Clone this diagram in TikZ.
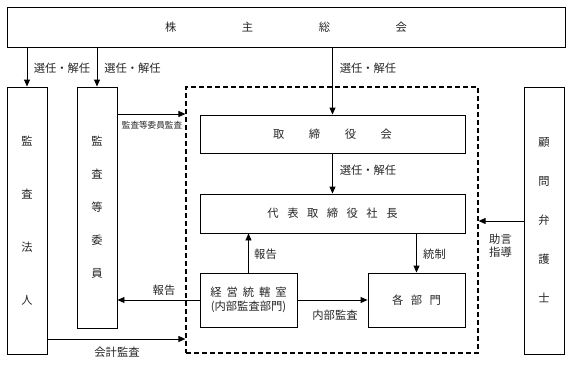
\documentclass[tikz,border=0pt]{standalone}
\usepackage{fontspec}
\setmainfont{Noto Sans CJK JP}
\usetikzlibrary{arrows.meta}
\tikzset{
  box/.style={draw, line width=0.9pt, inner sep=0pt, align=center, text=black!85},
  grpbox/.style={draw, line width=1.2pt, dash pattern=on 5pt off 3pt, inner sep=0pt},
  arr/.style={line width=0.9pt, -{Triangle[length=7pt,width=6pt]}},
  lbl/.style={inner sep=0pt, text=black!85, font=\fontsize{11.3}{13}\selectfont, align=center},
}
\begin{document}
\begin{tikzpicture}[x=1pt,y=-1pt]
\useasboundingbox (0,0) rectangle (570,364);
\begin{scope}[font=\fontsize{11.3}{13}\selectfont]
\node[box, minimum width=558pt, minimum height=40pt] (top) at (286,27)
  {株\hspace{65.5pt}主\hspace{65.5pt}総\hspace{65.5pt}会};
\node[box, minimum width=40pt, minimum height=267pt, font=\fontsize{11.3}{53}\selectfont] (hojin) at (27,220.5)
  {監\\査\\法\\人};
\node[box, minimum width=40pt, minimum height=241pt, font=\fontsize{11.3}{33}\selectfont] (iin) at (97,207.5)
  {監\\査\\等\\委\\員};
\node[grpbox, minimum width=292pt, minimum height=266pt] (grp) at (332,220) {};
\node[box, minimum width=265pt, minimum height=38pt] (tori) at (332.5,134)
  {取\hspace{24.5pt}締\hspace{24.5pt}役\hspace{24.5pt}会};
\node[box, minimum width=265pt, minimum height=39pt] (daihyo) at (332.5,213.5)
  {代\hspace{8.5pt}表\hspace{8.5pt}取\hspace{8.5pt}締\hspace{8.5pt}役\hspace{8.5pt}社\hspace{8.5pt}長};
\node[box, minimum width=97pt, minimum height=54pt, font=\fontsize{11.3}{14}\selectfont] (keiei) at (248.5,300)
  {経\hspace{5pt}営\hspace{5pt}統\hspace{5pt}轄\hspace{5pt}室\\(内部監査部門)};
\node[box, minimum width=97pt, minimum height=54pt] (kakubu) at (416.5,300)
  {各\hspace{7.5pt}部\hspace{7.5pt}門};
\node[box, minimum width=40pt, minimum height=267pt, font=\fontsize{11.3}{39}\selectfont] (komon) at (544,220.5)
  {顧\\問\\弁\\護\\士};
\end{scope}

\draw[arr] (top.south -| hojin.north) -- (hojin.north);
\draw[arr] (top.south -| iin.north) -- (iin.north);
\draw[arr] (top.south -| tori.north) -- (tori.north);
\draw[arr] (tori.south) -- (daihyo.north);
\draw[arr] (iin.east |- 0,114) -- (grp.west |- 0,114);
\draw[arr] (hojin.east |- 0,339) -- (grp.west |- 0,339);
\draw[arr] (komon.west |- 0,221) -- (grp.east |- 0,221);
\draw[arr] (keiei.north) -- (keiei.north |- daihyo.south);
\draw[arr] (daihyo.south -| kakubu.north) -- (kakubu.north);
\draw[arr] (keiei.west) -- (keiei.west -| iin.east);
\draw[arr] (keiei.east) -- (kakubu.west);

\node[lbl] (l1) at (62,68) {選任・解任};
\node[lbl] (l2) at (132.5,68) {選任・解任};
\node[lbl] (l3) at (368,68) {選任・解任};
\node[lbl] (l4) at (368,170) {選任・解任};
\node[lbl, font=\fontsize{8.6}{10}\selectfont] (l5) at (152,125) {監査等委員監査};
\node[lbl] (l6) at (265.5,254) {報告};
\node[lbl] (l7) at (164,290) {報告};
\node[lbl] (l8) at (434.5,254) {統制};
\node[lbl] (l9) at (335,315) {内部監査};
\node[lbl] (l10) at (500.5,246) {助言\\指導};
\node[lbl] (l11) at (117,352) {会計監査};
\end{tikzpicture}
\end{document}
